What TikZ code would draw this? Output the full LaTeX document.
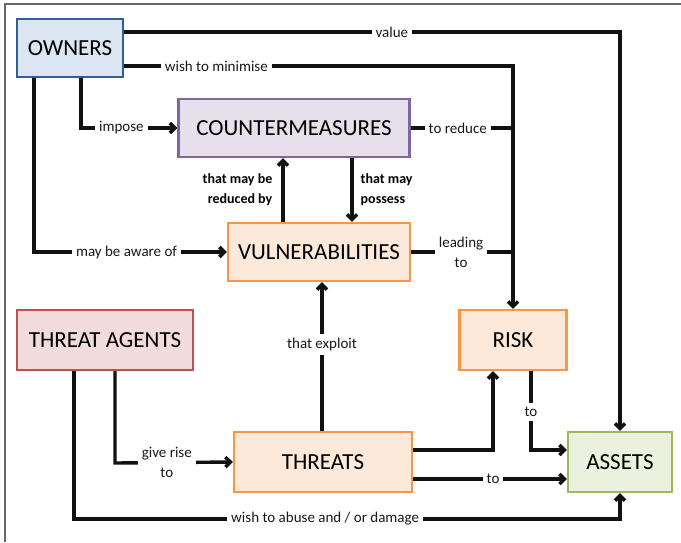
\documentclass[tikz,border=0pt]{standalone}
\usepackage{fontspec}
\setmainfont{Carlito}
\usetikzlibrary{arrows.meta}
\definecolor{ownB}{HTML}{2E5F99}\definecolor{ownF}{HTML}{DCE6F2}
\definecolor{cmB}{HTML}{8064A2}\definecolor{cmF}{HTML}{E6E0EC}
\definecolor{orB}{HTML}{F79646}\definecolor{orF}{HTML}{FDE9D9}
\definecolor{taB}{HTML}{C0504D}\definecolor{taF}{HTML}{F2DCDB}
\definecolor{asB}{HTML}{9BBB59}\definecolor{asF}{HTML}{EBF1DE}
\definecolor{lineC}{HTML}{111111}
\tikzset{
  box/.style={draw, line width=2.4pt, inner sep=0pt, font=\fontsize{23}{26}\selectfont, text=black},
  conn/.style={draw=lineC, line width=3.4pt},
  arr/.style={conn, -{Straight Barb[length=5pt,width=10pt]}},
  lbl/.style={fill=white, inner sep=4pt, font=\fontsize{15}{20}\selectfont, text=black!90, align=center},
  blbl/.style={inner sep=0pt, font=\fontsize{14}{20}\selectfont\bfseries, text=black},
}
\begin{document}
\begin{tikzpicture}[x=1pt,y=-1pt]
\useasboundingbox (0,0) rectangle (681,542);
\draw[draw=black!60, line width=2pt] (5,542) -- (5,4) -- (681,4);
% nodes
\node[box, draw=ownB, fill=ownF, minimum width=106pt, minimum height=58pt] (own) at (70,48) {OWNERS};
\node[box, draw=cmB, fill=cmF, minimum width=231pt, minimum height=58pt] (cm) at (294,128) {COUNTERMEASURES};
\node[box, draw=orB, fill=orF, minimum width=182pt, minimum height=58pt] (vul) at (319,252) {VULNERABILITIES};
\node[box, draw=taB, fill=taF, minimum width=176pt, minimum height=60pt] (ta) at (105,340) {THREAT AGENTS};
\node[box, draw=orB, fill=orF, minimum width=107pt, minimum height=60pt] (risk) at (513,340) {RISK};
\node[box, draw=orB, fill=orF, minimum width=178pt, minimum height=60pt] (thr) at (323,462) {THREATS};
\node[box, draw=asB, fill=asF, minimum width=104pt, minimum height=60pt] (ast) at (620,462) {ASSETS};
% connectors
\draw[arr] (own.east |- 0,32) -- node[lbl,pos=0.54]{value} (620,32) -- (ast.north);
\draw[arr] (own.east |- 0,66) -- node[lbl,pos=0.237]{wish to minimise} (513,66) -- (risk.north);
\draw[arr] (own.south -| 81,0) -- (81,128) -- node[lbl,pos=0.42]{impose} (cm.west);
\draw[arr] (own.south -| 34,0) -- (34,252) -- node[lbl,pos=0.48]{may be aware of} (vul.west);
\coordinate (j1) at (513,128);
\coordinate (j2) at (513,252);
\draw[conn] (cm.east) -- node[lbl,pos=0.46]{to reduce} (j1);
\draw[conn] (vul.east) -- node[lbl,pos=0.49]{leading\\to} (j2);
\draw[arr] (vul.north -| 283,0) -- node[blbl,left=9pt,align=right]{that may be\\reduced by} (cm.south -| 283,0);
\draw[arr] (cm.south -| 352,0) -- node[blbl,right=7pt,align=left]{that may\\possess} (vul.north -| 352,0);
\draw[arr] (thr.north -| 322,0) -- node[lbl,pos=0.58]{that exploit} (vul.south -| 322,0);
\draw[arr] (ta.south -| 115,0) -- (115,463) -- node[lbl,pos=0.44]{give rise\\to} (thr.west);
\draw[arr] (ta.south -| 74,0) -- (74,519) -- node[lbl,pos=0.46]{wish to abuse and / or damage} (620,519) -- (ast.south);
\draw[arr] (thr.east |- 0,450) -- (493,450) -- (risk.south -| 493,0);
\draw[arr] (thr.east |- 0,479) -- node[lbl,pos=0.52]{to} (ast.west |- 0,479);
\draw[arr] (risk.south -| 531,0) -- node[lbl,pos=0.52]{to} (531,450) -- (ast.west |- 0,450);
\end{tikzpicture}
\end{document}
